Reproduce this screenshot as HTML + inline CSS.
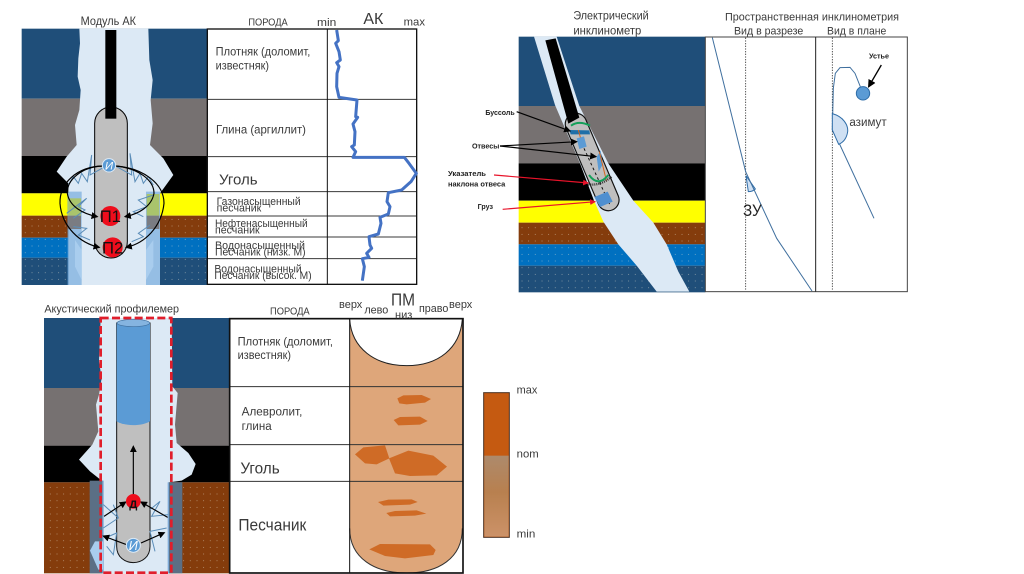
<!DOCTYPE html>
<html lang="ru">
<head>
<meta charset="utf-8">
<style>
html,body{margin:0;padding:0;background:#fff;width:1024px;height:574px;overflow:hidden}
svg{display:block}
text{font-family:"Liberation Sans","DejaVu Sans",sans-serif;fill:#3a3a3a}
</style>
</head>
<body>
<svg width="1024" height="574" viewBox="0 0 1024 574" xmlns="http://www.w3.org/2000/svg">
<defs>
<pattern id="dots" width="20" height="20" patternUnits="userSpaceOnUse"><circle cx="6" cy="8" r="1.3" fill="#e8e2d0" opacity=".8"/></pattern>
<marker id="ah" markerWidth="6" markerHeight="6" refX="5" refY="3" orient="auto"><path d="M0 0L6 3L0 6Z" fill="#000"/></marker>
<marker id="ar" markerWidth="5" markerHeight="5" refX="4.5" refY="2.5" orient="auto"><path d="M0 0L5 2.5L0 5Z" fill="#e8132a"/></marker>
<linearGradient id="bar" x1="0" y1="0" x2="0" y2="1"><stop offset="0" stop-color="#ad8a6c"/><stop offset=".45" stop-color="#b8804f"/><stop offset="1" stop-color="#cc9268"/></linearGradient>
</defs>

<!-- ===== Модуль АК : well ===== -->
<g transform="translate(10,10) scale(.33333)">
<rect x="35" y="56" width="558" height="210" fill="#1f4e79"/>
<rect x="35" y="266" width="558" height="172" fill="#767171"/>
<rect x="35" y="438" width="558" height="112" fill="#000"/>
<rect x="35" y="550" width="558" height="67" fill="#ffff00"/>
<rect x="35" y="617" width="558" height="66" fill="#843c0c"/>
<rect x="35" y="683" width="558" height="60" fill="#0070c0"/>
<rect x="35" y="743" width="558" height="82" fill="#1f4e79"/>
<rect x="35" y="617" width="558" height="208" fill="url(#dots)"/>
<path d="M208 56L210 100L205 145L203 200L212 240L208 300L195 345L200 405L170 440L140 485L175 520L175 825L450 825L450 550L490 495L460 445L420 405L428 340L422 270L428 210L418 150L415 56Z" fill="#dce9f5"/>
<path d="M172 545L215 545L215 825L172 825Z" fill="#5b9bd5" opacity=".55"/>
<path d="M408 545L450 545L450 825L408 825Z" fill="#5b9bd5" opacity=".55"/>
<path d="M195 690L215 720L215 810L195 770Z" fill="#a9cdee"/>
<path d="M430 690L408 720L408 810L430 770Z" fill="#a9cdee"/>
<rect x="175" y="565" width="38" height="52" fill="#a9c46c"/>
<rect x="410" y="552" width="38" height="65" fill="#a9c46c"/>
<rect x="175" y="617" width="38" height="40" fill="#767171" opacity=".85"/>
<rect x="410" y="617" width="38" height="40" fill="#767171" opacity=".85"/>
<path d="M254 340A48 48 0 0 1 352 340L352 695A48 48 0 0 1 254 695Z" fill="#bfbfbf" stroke="#000" stroke-width="3"/>
<rect x="286" y="60" width="33" height="266" fill="#000"/>
<path d="M285 470L240 495L245 435L232 515L215 490L205 520L190 500L175 525" fill="none" stroke="#5b8db8" stroke-width="3"/>
<path d="M320 470L365 495L360 430L375 515L390 490L400 520L415 500L430 525" fill="none" stroke="#5b8db8" stroke-width="3"/>
<path d="M170 610L230 565L205 590L225 600L190 625" fill="none" stroke="#5b8db8" stroke-width="3"/>
<path d="M430 555L385 570L410 590L370 605L400 620" fill="none" stroke="#5b8db8" stroke-width="3"/>
<path d="M190 650L230 655L205 675L240 690" fill="none" stroke="#5b8db8" stroke-width="3"/>
<path d="M420 645L385 670L400 680L365 695" fill="none" stroke="#5b8db8" stroke-width="3"/>
<g fill="none" stroke="#000" stroke-width="3.5">
<path d="M278 468C215 470 170 510 172 550C178 590 220 612 262 620" marker-end="url(#ah)"/>
<path d="M318 468C385 475 432 510 432 550C425 590 385 612 345 620" marker-end="url(#ah)"/>
<path d="M278 468C200 470 148 520 150 580C155 650 210 700 268 712" marker-end="url(#ah)"/>
<path d="M318 468C400 475 462 520 462 580C455 650 405 700 348 712" marker-end="url(#ah)"/>
</g>
<circle cx="297" cy="466" r="20" fill="#5b9bd5" stroke="#dce9f5" stroke-width="3"/>
<circle cx="301" cy="618" r="30" fill="#ee0d1c"/>
<circle cx="308" cy="712" r="30" fill="#ee0d1c"/>
<text x="297" y="478" font-size="34" text-anchor="middle" font-style="italic" style="fill:#fff">И</text>
<text x="301" y="636" font-size="50" text-anchor="middle" style="fill:#111">П1</text>
<text x="308" y="730" font-size="50" text-anchor="middle" style="fill:#111">П2</text>
<text x="212" y="45" font-size="35" textLength="166" lengthAdjust="spacingAndGlyphs">Модуль АК</text>
</g>

<!-- ===== Модуль АК : table ===== -->
<g transform="translate(205,10) scale(.33333)">
<rect x="7" y="57" width="628" height="766" fill="#fff"/>
<g stroke="#3a3a3a" stroke-width="3">
<line x1="7" y1="268" x2="635" y2="268"/>
<line x1="7" y1="440" x2="635" y2="440"/>
<line x1="7" y1="545" x2="635" y2="545"/>
<line x1="7" y1="618" x2="635" y2="618"/>
<line x1="7" y1="681" x2="635" y2="681"/>
<line x1="7" y1="746" x2="635" y2="746"/>
</g>
<rect x="7" y="57" width="628" height="766" fill="none" stroke="#111" stroke-width="4"/>
<line x1="367" y1="57" x2="367" y2="823" stroke="#111" stroke-width="3"/>
<path d="M395 60L400 92L392 100L402 125L406 150L395 158L402 170L396 190L395 230L402 262L456 270L452 320L458 322L444 342L450 365L448 405L440 410L452 425L444 442L598 442L612 460L634 490L618 515L590 540L550 548L546 575L555 590L550 612L525 622L528 640L520 672L492 680L495 705L500 715L485 730L492 742L472 746L478 770L472 812" fill="none" stroke="#4472c4" stroke-width="9" stroke-linejoin="round"/>
<text x="130" y="46" font-size="29" textLength="118" lengthAdjust="spacingAndGlyphs">ПОРОДА</text>
<text x="336" y="48" font-size="34" textLength="58" lengthAdjust="spacingAndGlyphs">min</text>
<text x="475" y="42" font-size="46" textLength="60" lengthAdjust="spacingAndGlyphs">АК</text>
<text x="596" y="46" font-size="33" textLength="64" lengthAdjust="spacingAndGlyphs">max</text>
<text x="32" y="136" font-size="35" textLength="284" lengthAdjust="spacingAndGlyphs">Плотняк (доломит,</text>
<text x="32" y="179" font-size="35" textLength="160" lengthAdjust="spacingAndGlyphs">известняк)</text>
<text x="33" y="370" font-size="35" textLength="270" lengthAdjust="spacingAndGlyphs">Глина (аргиллит)</text>
<text x="42" y="523" font-size="45" textLength="116" lengthAdjust="spacingAndGlyphs">Уголь</text>
<text x="35" y="585" font-size="33" textLength="252" lengthAdjust="spacingAndGlyphs">Газонасыщенный</text>
<text x="35" y="605" font-size="33" textLength="134" lengthAdjust="spacingAndGlyphs">песчаник</text>
<text x="30" y="651" font-size="33" textLength="278" lengthAdjust="spacingAndGlyphs">Нефтенасыщенный</text>
<text x="30" y="671" font-size="33" textLength="134" lengthAdjust="spacingAndGlyphs">песчаник</text>
<text x="30" y="717" font-size="33" textLength="270" lengthAdjust="spacingAndGlyphs">Водонасыщенный</text>
<text x="30" y="737" font-size="33" textLength="272" lengthAdjust="spacingAndGlyphs">Песчаник (низк. М)</text>
<text x="28" y="787" font-size="33" textLength="262" lengthAdjust="spacingAndGlyphs">Водонасыщенный</text>
<text x="28" y="807" font-size="33" textLength="292" lengthAdjust="spacingAndGlyphs">Песчаник (высок. М)</text>
</g>

<!-- ===== Электрический инклинометр ===== -->
<g transform="translate(440,5) scale(.33333)">
<rect x="236" y="95" width="560" height="208" fill="#1f4e79"/>
<rect x="236" y="303" width="560" height="172" fill="#767171"/>
<rect x="236" y="475" width="560" height="112" fill="#000"/>
<rect x="236" y="587" width="560" height="66" fill="#ffff00"/>
<rect x="236" y="653" width="560" height="65" fill="#843c0c"/>
<rect x="236" y="718" width="560" height="64" fill="#0070c0"/>
<rect x="236" y="782" width="560" height="80" fill="#1f4e79"/>
<rect x="236" y="653" width="560" height="209" fill="url(#dots)"/>
<path d="M282 95L345 300L420 475L462 587L490 650L535 718L590 782L650 860L748 860L715 800L680 718L640 653L580 587L505 475L418 303L350 95Z" fill="#dce9f5"/>
<line x1="408" y1="357" x2="505" y2="585" stroke="#111" stroke-width="68" stroke-linecap="round"/>
<line x1="408" y1="357" x2="505" y2="585" stroke="#bfbfbf" stroke-width="61" stroke-linecap="round"/>
<path d="M316 106L347 100L418 338L385 356Z" fill="#000"/>
<path d="M393 362C410 350 430 352 450 362" fill="none" stroke="#14a05a" stroke-width="6"/>
<path d="M388 375L448 376L450 388L392 388Z" fill="#1f6fa8"/>
<line x1="415" y1="375" x2="422" y2="400" stroke="#d3661e" stroke-width="3"/>
<path d="M410 400L432 394L440 425L418 432Z" fill="#5b9bd5"/>
<line x1="432" y1="430" x2="510" y2="600" stroke="#111" stroke-width="3" stroke-dasharray="8 8"/>
<path d="M470 456L482 436L488 478L476 500Z" fill="#5b9bd5"/>
<line x1="478" y1="440" x2="500" y2="530" stroke="#d3661e" stroke-width="3"/>
<path d="M447 510C465 535 485 535 505 510" fill="none" stroke="#14a05a" stroke-width="6"/>
<path d="M445 538C470 542 495 532 515 515" fill="none" stroke="#333" stroke-width="7" stroke-dasharray="3 3"/>
<path d="M463 576L503 560L518 590L480 606Z" fill="#4f8fd0"/>
<g fill="none" stroke="#000" stroke-width="3.5">
<path d="M230 320L390 378" marker-end="url(#ah)"/>
<path d="M180 423L410 410" marker-end="url(#ah)"/>
<path d="M180 423L468 455" marker-end="url(#ah)"/>
</g>
<g fill="none" stroke="#e8132a" stroke-width="3.5">
<path d="M162 510L445 534" marker-end="url(#ar)"/>
<path d="M188 613L466 590" marker-end="url(#ar)"/>
</g>
<g style="font-weight:bold">
<text x="136" y="330" font-size="23" textLength="88" lengthAdjust="spacingAndGlyphs" style="fill:#222">Буссоль</text>
<text x="96" y="431" font-size="23" textLength="82" lengthAdjust="spacingAndGlyphs" style="fill:#222">Отвесы</text>
<text x="24" y="513" font-size="23" textLength="114" lengthAdjust="spacingAndGlyphs" style="fill:#222">Указатель</text>
<text x="24" y="544" font-size="23" textLength="172" lengthAdjust="spacingAndGlyphs" style="fill:#222">наклона отвеса</text>
<text x="113" y="612" font-size="23" textLength="46" lengthAdjust="spacingAndGlyphs" style="fill:#222">Груз</text>
</g>
<text x="400" y="43" font-size="35" textLength="226" lengthAdjust="spacingAndGlyphs">Электрический</text>
<text x="400" y="88" font-size="35" textLength="204" lengthAdjust="spacingAndGlyphs">инклинометр</text>
</g>

<!-- ===== Пространственная инклинометрия ===== -->
<g transform="translate(680,5) scale(.33333)">
<rect x="76" y="96" width="606" height="764" fill="#fff" stroke="#444" stroke-width="3"/>
<line x1="407" y1="96" x2="407" y2="860" stroke="#222" stroke-width="3"/>
<line x1="197" y1="98" x2="197" y2="858" stroke="#333" stroke-width="2.5" stroke-dasharray="4 4"/>
<line x1="457" y1="98" x2="457" y2="858" stroke="#333" stroke-width="2.5" stroke-dasharray="4 4"/>
<path d="M198 512L205 560C215 560 222 556 226 552Z" fill="#cfe0f3" stroke="#2f6da8" stroke-width="3"/>
<path d="M97 98L197 500L290 700L396 858" fill="none" stroke="#3f6f9e" stroke-width="3"/>
<path d="M541 245L525 205L510 187L480 188L466 205L460 250L457 375L480 420L582 640" fill="none" stroke="#3f6f9e" stroke-width="3"/>
<path d="M457 326C490 335 505 360 503 380C500 400 490 412 476 418L457 375Z" fill="#cfe0f3" stroke="#2f6da8" stroke-width="3"/>
<circle cx="549" cy="265" r="20" fill="#5b9bd5" stroke="#2f6da8" stroke-width="3"/>
<path d="M604 180L566 245" stroke="#000" stroke-width="4" marker-end="url(#ah)" fill="none"/>
<text x="567" y="160" font-size="23" textLength="60" lengthAdjust="spacingAndGlyphs" style="font-weight:bold;fill:#222">Устье</text>
<text x="508" y="363" font-size="37" textLength="112" lengthAdjust="spacingAndGlyphs">азимут</text>
<text x="189" y="633" font-size="50" textLength="56" lengthAdjust="spacingAndGlyphs" style="fill:#222">ЗУ</text>
<text x="135" y="46" font-size="34" textLength="522" lengthAdjust="spacingAndGlyphs">Пространственная инклинометрия</text>
<text x="162" y="88" font-size="34" textLength="208" lengthAdjust="spacingAndGlyphs">Вид в разрезе</text>
<text x="441" y="88" font-size="34" textLength="178" lengthAdjust="spacingAndGlyphs">Вид в плане</text>
</g>

<!-- ===== Акустический профилемер : well ===== -->
<g transform="translate(35,298) scale(.33333)">
<rect x="27" y="60" width="555" height="210" fill="#1f4e79"/>
<rect x="27" y="270" width="555" height="173" fill="#767171"/>
<rect x="27" y="443" width="555" height="110" fill="#000"/>
<rect x="27" y="553" width="555" height="273" fill="#843c0c"/>
<rect x="27" y="553" width="555" height="273" fill="url(#dots)"/>
<path d="M197 60L192 190L200 240L192 290L183 320L190 400L172 440L132 485L165 520L200 548L205 826L402 826L402 553L440 548L470 530L482 498L460 465L425 435L420 380L428 285L412 265L410 60Z" fill="#dce9f5"/>
<rect x="164" y="548" width="40" height="278" fill="#5b6f85"/>
<rect x="400" y="553" width="42" height="273" fill="#5b6f85"/>
<path d="M204 548V826M400 553V826" stroke="#7ea9d6" stroke-width="4" fill="none"/>
<path d="M180 730L165 758L190 815L204 815L204 730Z" fill="#a9cdee"/>
<path d="M245 75L345 75L345 745C345 810 245 810 245 745Z" fill="#bfbfbf" stroke="#111" stroke-width="3"/>
<path d="M245 75L345 75L345 370C320 385 270 385 245 370Z" fill="#5b9bd5"/>
<ellipse cx="295" cy="75" rx="49" ry="11" fill="#85b4e0" stroke="#3f6f9e" stroke-width="2"/>
<g fill="none" stroke="#5b8db8" stroke-width="3">
<path d="M205 620L250 660L205 690M250 660L235 620"/>
<path d="M400 650L350 655L375 610L345 635"/>
<path d="M210 720L245 705L235 770L215 745"/>
<path d="M395 690L345 700L360 760"/>
</g>
<g fill="none" stroke="#000" stroke-width="3.5">
<path d="M295 590L295 445" marker-end="url(#ah)"/>
<path d="M207 655L272 612" marker-end="url(#ah)"/>
<path d="M398 658L318 612" marker-end="url(#ah)"/>
<path d="M275 740L205 714" marker-end="url(#ah)"/>
<path d="M318 735L388 704" marker-end="url(#ah)"/>
</g>
<circle cx="295" cy="610" r="22" fill="#ee0d1c"/>
<text x="295" y="630" font-size="34" text-anchor="middle" style="fill:#111;font-weight:bold">Д</text>
<circle cx="295" cy="742" r="21" fill="#5b9bd5" stroke="#dce9f5" stroke-width="3"/>
<text x="295" y="756" font-size="38" text-anchor="middle" font-style="italic" style="fill:#fff">И</text>
<rect x="197" y="60" width="212" height="764" fill="none" stroke="#e01e2b" stroke-width="8" stroke-dasharray="24 10"/>
<text x="28" y="44" font-size="34" textLength="404" lengthAdjust="spacingAndGlyphs">Акустический профилемер</text>
</g>

<!-- ===== Акустический профилемер : table ===== -->
<g transform="translate(225,295) scale(.33333)">
<rect x="14" y="71" width="700" height="763" fill="#fff"/>
<path d="M374 73C380 160 450 212 545 212C640 212 705 160 712 73L712 700C712 790 640 834 545 834C450 834 374 790 374 700Z" fill="#dea67a"/>
<path d="M374 73C380 160 450 212 545 212C640 212 705 160 712 73" fill="none" stroke="#222" stroke-width="3"/>
<path d="M374 700C374 790 450 834 545 834C640 834 712 790 712 700" fill="none" stroke="#333" stroke-width="3"/>
<g fill="#cf6b26">
<path d="M517 310L535 301L590 300L618 312L600 323L545 328L523 325Z"/>
<path d="M506 375L525 366L585 365L608 378L585 389L520 391Z"/>
<path d="M390 478L415 457L480 451L493 490L455 508L420 505Z"/>
<path d="M492 490L550 467L625 482L666 515L635 541L555 543L510 535Z"/>
<path d="M459 621L490 614L560 613L578 621L555 629L475 632Z"/>
<path d="M484 654L510 648L575 646L604 656L570 662L495 664Z"/>
<path d="M433 763L465 747L615 748L632 765L625 780L540 790L480 783Z"/>
</g>
<g stroke="#333" stroke-width="3">
<line x1="14" y1="275" x2="714" y2="275"/>
<line x1="14" y1="449" x2="714" y2="449"/>
<line x1="14" y1="559" x2="714" y2="559"/>
</g>
<line x1="374" y1="71" x2="374" y2="834" stroke="#111" stroke-width="3"/>
<rect x="14" y="71" width="700" height="763" fill="none" stroke="#111" stroke-width="5"/>
<text x="135" y="59" font-size="30" textLength="119" lengthAdjust="spacingAndGlyphs">ПОРОДА</text>
<text x="342" y="39" font-size="32" textLength="70" lengthAdjust="spacingAndGlyphs">верх</text>
<text x="418" y="55" font-size="34" textLength="72" lengthAdjust="spacingAndGlyphs">лево</text>
<text x="498" y="31" font-size="52" textLength="72" lengthAdjust="spacingAndGlyphs">ПМ</text>
<text x="510" y="70" font-size="32" textLength="52" lengthAdjust="spacingAndGlyphs">низ</text>
<text x="582" y="51" font-size="32" textLength="88" lengthAdjust="spacingAndGlyphs">право</text>
<text x="672" y="39" font-size="32" textLength="70" lengthAdjust="spacingAndGlyphs">верх</text>
<text x="38" y="152" font-size="35" textLength="286" lengthAdjust="spacingAndGlyphs">Плотняк (доломит,</text>
<text x="38" y="192" font-size="35" textLength="160" lengthAdjust="spacingAndGlyphs">известняк)</text>
<text x="50" y="361" font-size="37" textLength="182" lengthAdjust="spacingAndGlyphs">Алевролит,</text>
<text x="50" y="405" font-size="37" textLength="90" lengthAdjust="spacingAndGlyphs">глина</text>
<text x="46" y="535" font-size="46" textLength="118" lengthAdjust="spacingAndGlyphs">Уголь</text>
<text x="40" y="707" font-size="49" textLength="204" lengthAdjust="spacingAndGlyphs">Песчаник</text>
<rect x="776" y="293" width="77" height="434" fill="#c55a11" stroke="#4a3020" stroke-width="3"/>
<rect x="778" y="482" width="73" height="243" fill="url(#bar)"/>
<text x="875" y="296" font-size="33" textLength="62" lengthAdjust="spacingAndGlyphs">max</text>
<text x="875" y="488" font-size="33" textLength="66" lengthAdjust="spacingAndGlyphs">nom</text>
<text x="875" y="728" font-size="33" textLength="56" lengthAdjust="spacingAndGlyphs">min</text>
</g>
</svg>
</body>
</html>
